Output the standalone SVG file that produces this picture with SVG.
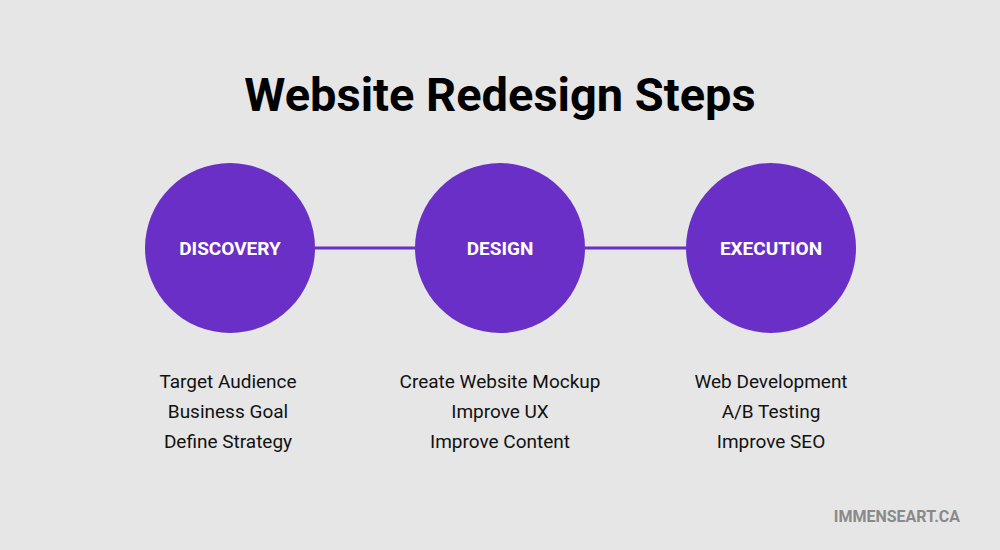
<svg xmlns="http://www.w3.org/2000/svg" width="1000" height="550" viewBox="0 0 1000 550">
<style>
.c{fill:#6a2fc7}
.lbl{font-family:Roboto,"Liberation Sans",sans-serif;font-weight:bold;font-size:19px;fill:#fff;text-anchor:middle}
.it{font-family:Roboto,"Liberation Sans",sans-serif;font-size:19px;fill:#111;text-anchor:middle}
</style>
<rect width="1000" height="550" fill="#e6e6e6"/>
<text x="500" y="111" font-family="Roboto,'Liberation Sans',sans-serif" font-weight="bold" font-size="47" text-anchor="middle" fill="#000">Website Redesign Steps</text>
<g id="connectors" stroke="#6a2fc7" stroke-width="3">
<line x1="315" y1="248" x2="415" y2="248"/>
<line x1="585" y1="248" x2="686" y2="248"/>
</g>
<g id="discovery"><circle class="c" cx="230" cy="248" r="85"/><text class="lbl" x="230" y="255">DISCOVERY</text>
<text class="it" x="228" y="388">Target Audience</text><text class="it" x="228" y="418">Business Goal</text><text class="it" x="228" y="448">Define Strategy</text></g>
<g id="design"><circle class="c" cx="500" cy="248" r="85"/><text class="lbl" x="500" y="255">DESIGN</text>
<text class="it" x="500" y="388">Create Website Mockup</text><text class="it" x="500" y="418">Improve UX</text><text class="it" x="500" y="448">Improve Content</text></g>
<g id="execution"><circle class="c" cx="771" cy="248" r="85"/><text class="lbl" x="771" y="255">EXECUTION</text>
<text class="it" x="771" y="388">Web Development</text><text class="it" x="771" y="418">A/B Testing</text><text class="it" x="771" y="448">Improve SEO</text></g>
<text x="960" y="522" font-family="Roboto,'Liberation Sans',sans-serif" font-weight="bold" font-size="16" text-anchor="end" fill="#8a8a8a">IMMENSEART.CA</text>
</svg>
